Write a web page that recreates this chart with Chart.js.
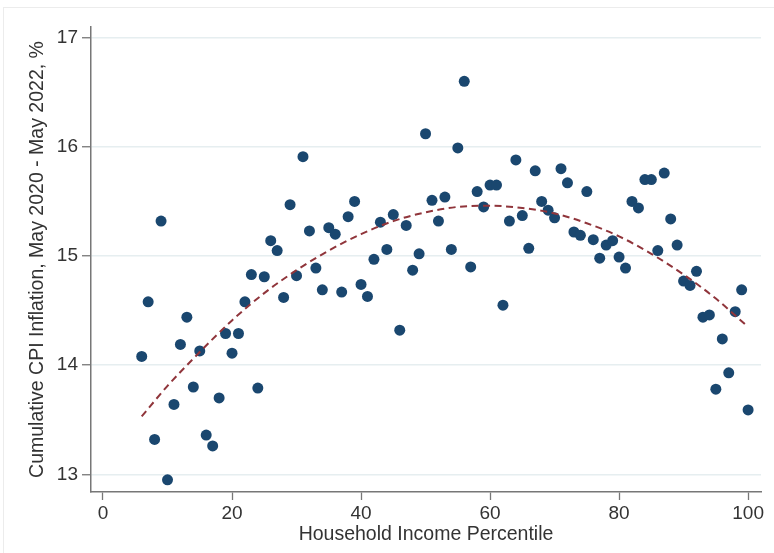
<!DOCTYPE html>
<html>
<head>
<meta charset="utf-8">
<script src="https://cdn.jsdelivr.net/npm/chart.js@4/dist/chart.umd.min.js"></script>
<style>
  html, body { margin: 0; padding: 0; background: #fff; }
  #wrap { position: relative; width: 774px; height: 553px; overflow: hidden; }
  #frame { position: absolute; left: 3px; top: 7px; right: -2px; bottom: -2px;
           border-left: 1px solid #ececec; border-top: 1px solid #ececec; }
  #c { position: absolute; left: 0; top: 0; }
</style>
</head>
<body>
<div id="wrap">
  <div id="frame"></div>
  <canvas id="c" width="774" height="553"></canvas>
</div>
<script>
// Household income percentiles and cumulative CPI inflation (May 2020 - May 2022), %
const percentiles = [
  6, 7, 8, 9, 10, 11, 12, 13, 14, 15, 16, 17, 18, 19, 20, 21, 22, 23, 24, 25,
  26, 27, 28, 29, 30, 31, 32, 33, 34, 35, 36, 37, 38, 39, 40, 41, 42, 43, 44, 45,
  46, 47, 48, 49, 50, 51, 52, 53, 54, 55, 56, 57, 58, 59, 60, 61, 62, 63, 64, 65,
  66, 67, 68, 69, 70, 71, 72, 73, 74, 75, 76, 77, 78, 79, 80, 81, 82, 83, 84, 85,
  86, 87, 88, 89, 90, 91, 92, 93, 94, 95, 96, 97, 98, 99, 100
];
const inflation = [
  14.08, 14.58, 13.32, 15.32, 12.95, 13.64, 14.19, 14.44, 13.80, 14.13,
  13.36, 13.26, 13.70, 14.29, 14.11, 14.29, 14.58, 14.83, 13.79, 14.81,
  15.14, 15.05, 14.62, 15.47, 14.82, 15.91, 15.23, 14.89, 14.69, 15.26,
  15.20, 14.67, 15.36, 15.50, 14.74, 14.63, 14.97, 15.31, 15.06, 15.38,
  14.32, 15.28, 14.87, 15.02, 16.12, 15.51, 15.32, 15.54, 15.06, 15.99,
  16.60, 14.90, 15.59, 15.45, 15.65, 15.65, 14.55, 15.32, 15.88, 15.37,
  15.07, 15.78, 15.50, 15.42, 15.35, 15.80, 15.67, 15.22, 15.19, 15.59,
  15.15, 14.98, 15.10, 15.14, 14.99, 14.89, 15.50, 15.44, 15.70, 15.70,
  15.05, 15.76, 15.34, 15.10, 14.77, 14.73, 14.86, 14.44, 14.46, 13.78,
  14.24, 13.93, 14.49, 14.69, 13.59
];

// Quadratic fit curve, sampled along the percentile range
const fitPercentiles = [6, 10, 15, 20, 25, 30, 35, 40, 45, 50, 55, 60, 65, 70, 75, 80, 85, 90, 95, 100];
const fitValues = [
  13.53, 13.81, 14.12, 14.41, 14.66, 14.87, 15.05, 15.20, 15.32, 15.40,
  15.45, 15.46, 15.44, 15.39, 15.30, 15.18, 15.02, 14.83, 14.61, 14.35
];

// Axis tick labels
const xTicks = [0, 20, 40, 60, 80, 100];
const yTicks = [13, 14, 15, 16, 17];

const scatterPoints = percentiles.map((p, i) => ({ x: p, y: inflation[i] }));
const fitPoints = fitPercentiles.map((p, i) => ({ x: p, y: fitValues[i] }));

const FONT = { family: "'Liberation Sans', Arial, sans-serif", size: 19 };
const TEXT = '#333333';
const AXIS = '#777777';

new Chart(document.getElementById('c'), {
  type: 'scatter',
  data: {
    datasets: [
      {
        type: 'line',
        data: fitPoints,
        borderColor: '#90353b',
        borderWidth: 2,
        borderDash: [7, 4.5],
        pointRadius: 0,
        fill: false,
        cubicInterpolationMode: 'monotone',
        order: 0
      },
      {
        type: 'scatter',
        data: scatterPoints,
        backgroundColor: '#1a476f',
        borderWidth: 0,
        pointRadius: 5.5,
        order: 1
      }
    ]
  },
  options: {
    responsive: false,
    animation: false,
    layout: { padding: { top: 27, right: 13, left: 0, bottom: 0 } },
    plugins: { legend: { display: false }, tooltip: { enabled: false } },
    scales: {
      x: {
        type: 'linear',
        min: -1.86,
        max: 102.0,
        afterBuildTicks: s => { s.ticks = xTicks.map(v => ({ value: v })); },
        afterFit: s => { s.height = 61; },
        grid: { drawOnChartArea: false, drawTicks: true, tickLength: 8, tickColor: AXIS, tickWidth: 1.3 },
        border: { display: true, color: AXIS, width: 1.5 },
        ticks: { font: FONT, color: TEXT, padding: 2, maxRotation: 0 },
        title: { display: true, text: 'Household Income Percentile', font: { ...FONT, size: 19.5 }, color: TEXT,
                 padding: { top: 0, bottom: 7 } }
      },
      y: {
        type: 'linear',
        min: 12.838,
        max: 17.098,
        afterBuildTicks: s => { s.ticks = yTicks.map(v => ({ value: v })); },
        afterFit: s => { s.width = 91; },
        grid: { color: '#e6eef0', lineWidth: 1.5, drawTicks: true, tickLength: 9, tickColor: AXIS, tickWidth: 1.3 },
        border: { display: true, color: AXIS, width: 1.5 },
        ticks: { font: FONT, color: TEXT, padding: 4 },
        title: { display: true, text: 'Cumulative CPI Inflation, May 2020 - May 2022, %', font: { ...FONT, size: 19.5 }, color: TEXT,
                 padding: { top: 26, bottom: 0 } }
      }
    }
  }
});
</script>
</body>
</html>
